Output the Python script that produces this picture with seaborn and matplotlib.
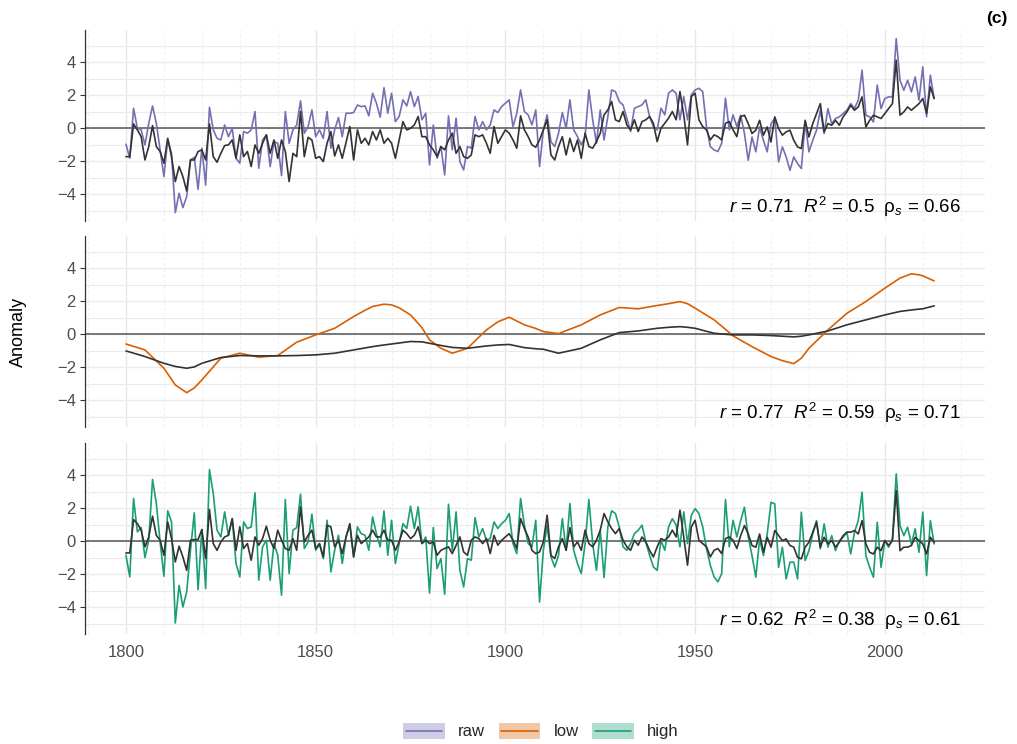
## ==========================================
## Anomaly Panels : raw / low / high
## ==========================================

import numpy as np
import pandas as pd
import matplotlib.pyplot as plt
import seaborn as sns

from matplotlib.lines import Line2D
from matplotlib.patches import Rectangle
from matplotlib.legend_handler import HandlerBase
from matplotlib.ticker import MultipleLocator

## ==========================================
## Data
## ==========================================

years = np.arange(1800, 2014)

raw_series = [
    -0.97, -1.82, 1.21, 0.0, -0.1, -1.01, 0.3, 1.35, 0.3, -1.31,
    -2.93, -0.67, -1.52, -5.11, -3.94, -4.81, -4.14, -1.92, -1.76, -3.7,
    -1.21, -3.45, 1.27, -0.1, -0.61, -0.71, 0.2, -0.51, 0.0, -1.82,
    -2.12, -0.2, -0.3, -0.1, 1.01, -2.42, -0.71, -0.4, -2.32, -0.81,
    -0.91, -2.87, 1.01, -0.91, -0.1, 0.2, 1.66, -0.3, 0.1, 1.11,
    -0.51, -0.1, -0.61, 1.01, -1.21, -0.1, 0.65, -0.51, 0.91, 0.91,
    0.95, 1.41, 1.31, 1.35, 0.75, 2.12, 1.52, 0.67, 2.46, 0.91,
    2.12, 0.4, 0.71, 1.72, 1.35, 2.22, 1.31, 1.92, 0.51, 0.91,
    -2.22, 0.2, -1.82, -1.11, -2.83, 0.75, -1.31, 0.61, -2.02, -2.53,
    -1.11, -1.21, 0.71, -0.1, 0.4, -0.1, 0.2, 1.11, 0.95, 1.31,
    1.52, 1.72, 0.1, 0.91, 2.32, 1.01, 0.81, 0.2, 1.11, -2.32,
    -0.1, 0.81, -0.81, -1.11, -0.3, 0.95, 0.0, 1.72, -0.1, -0.51,
    -1.01, -0.51, 2.32, 0.51, -0.91, 1.11, -0.71, 0.71, 2.32, 2.22,
    1.62, 1.41, 0.61, -0.2, 1.21, 1.31, 1.41, 1.72, 0.71, 0.1,
    -0.1, 1.21, 0.81, 2.12, 2.32, 2.12, 0.51, 1.92, 0.51, 2.02,
    2.32, 2.42, 2.22, 0.1, -1.11, -1.31, -1.41, -0.91, 1.82, -0.1,
    0.81, 0.1, 0.8, -0.32, -1.94, -0.53, -1.43, 0.08, -0.73, -1.43,
    0.28, 0.59, -2.04, -1.13, -1.74, -2.55, -1.74, -2.14, -2.44, 0.38,
    -1.43, -0.73, -0.12, 1.09, -0.32, 1.19, 0.28, 0.59, 0.69, 0.89,
    1.09, 1.49, 1.19, 1.7, 3.52, 0.79, 0.69, 0.38, 2.61, 1.19,
    1.8, 1.9, 1.9, 5.43, 2.91, 2.3, 2.91, 2.2, 3.11, 1.7,
    3.72, 0.69, 3.21, 1.8,
]

raw_ref = [
    -1.72, -1.72, 0.26, -0.1, -0.51, -1.92, -1.11, 0.16, -1.11, -1.41,
    -2.12, -0.61, -1.72, -3.23, -2.32, -2.93, -3.8, -1.92, -1.92, -1.41,
    -1.31, -1.92, 0.26, -1.72, -2.06, -1.52, -1.05, -1.01, -0.71, -1.82,
    -0.4, -1.72, -1.41, -2.32, -1.01, -1.52, -0.91, -0.4, -1.52, -0.71,
    -1.82, -0.71, -1.41, -3.23, -1.52, -1.72, 1.01, -1.72, -0.55, -0.71,
    -1.82, -1.72, -2.02, -0.91, -0.2, -1.68, -1.01, -1.82, -0.87, 0.1,
    -1.92, -0.1, -0.91, -0.61, -1.01, -0.2, -0.71, -0.1, -0.91, -0.61,
    -0.91, -1.82, -0.71, 0.4, -0.1, 0.0, 0.2, 0.71, -0.51, -0.51,
    -1.01, -1.31, -1.72, -1.11, -1.31, -0.71, -0.3, -1.52, -1.11, -1.72,
    -1.82, -1.62, -0.4, -0.51, -0.4, -0.91, -1.52, 0.1, -0.91, -0.51,
    -0.1, -0.3, -0.71, -1.21, 0.75, -0.1, -0.51, -1.01, -1.15, -0.71,
    -0.1, 0.51, -1.62, -1.92, -1.11, -0.51, -1.62, -0.61, -1.41, -0.71,
    -1.82, -0.3, -1.11, -1.21, -0.81, -0.3, 0.81, 1.11, 1.62, 0.51,
    0.4, 1.01, 0.2, -0.1, 0.51, -0.2, 0.4, 0.51, 0.71, 0.3,
    -0.81, 0.0, 0.3, 0.61, 1.01, 0.51, 2.22, 0.81, -1.01, 1.92,
    2.12, 0.51, 0.1, -0.1, -0.71, -0.4, -0.51, -0.71, 0.3, 0.4,
    -0.1, -0.51, 0.69, 0.79, 0.28, -0.32, -0.12, 0.48, -0.42, 0.08,
    -0.83, 0.69, -0.02, -0.42, -0.22, -0.12, -0.73, -1.13, -1.23, 0.48,
    -0.53, 0.28, 0.89, 1.49, -0.22, 0.28, 0.18, 0.48, 0.18, 0.69,
    0.99, 1.39, 1.09, 1.29, 1.9, 0.08, 0.48, 0.79, 0.69, 0.59,
    0.89, 1.19, 1.49, 4.12, 0.79, 0.99, 1.29, 1.09, 1.29, 1.49,
    1.8, 0.89, 2.51, 1.8,
]

high_series = [
    -0.85, -2.16, 2.59, 0.57, 0.83, -0.99, 0.06, 3.74, 2.28, -0.04,
    -2.12, 1.84, 1.17, -4.95, -2.67, -3.98, -3.07, -0.55, 1.72, -2.93,
    0.71, -2.87, 4.34, 2.89, 0.67, 0.26, 1.78, 0.36, 1.37, -1.35,
    -2.16, 1.17, 0.77, 0.87, 2.93, -2.36, -0.34, 0.06, -2.36, -0.14,
    -0.85, -3.27, 2.53, -1.96, 0.67, 0.83, 2.85, -0.44, -0.04, 1.64,
    -0.55, -0.18, -1.05, 1.27, -1.86, -0.55, 0.36, -1.35, 0.26, 0.97,
    -0.95, 0.87, 0.46, 0.36, -0.55, 1.47, 0.46, -0.34, 1.84, -0.85,
    1.27, -1.35, -0.14, 1.07, 0.77, 2.12, 0.77, 2.08, -0.14, 0.26,
    -3.13, 0.83, -1.66, -1.05, -3.21, 2.24, -0.55, 1.78, -1.76, -2.77,
    -1.05, -1.15, 1.43, 0.26, 0.77, 0.06, 0.16, 1.17, 0.77, 1.07,
    1.27, 1.68, -0.14, -0.75, 2.59, 0.97, -0.14, -0.34, 1.27, -3.68,
    -0.55, 0.97, -0.95, -1.56, -0.85, 1.37, -0.55, 2.28, -0.55, -1.35,
    -1.96, -0.14, 2.53, -0.14, -1.76, 0.67, -2.2, 0.87, 1.84, 1.68,
    0.87, -0.34, -0.55, -0.14, 0.46, 0.67, 0.97, -0.04, -0.85, -1.56,
    -1.76, 0.06, -0.55, 0.87, 1.37, 0.97, -0.34, 1.78, -0.14, 1.58,
    1.98, 1.68, 0.87, -0.44, -1.45, -2.16, -2.46, -1.96, 2.53, -0.34,
    1.27, 0.26, 1.25, 2.06, 0.24, -0.87, -2.18, 0.14, -0.87, 0.44,
    2.36, 2.26, -1.58, -0.36, -2.28, -1.27, -1.27, -2.28, 1.76, -1.17,
    -0.57, 0.44, 1.25, -0.46, 1.05, -0.36, 0.34, -0.57, 0.04, 0.24,
    0.55, -0.77, 0.55, 1.25, 2.97, -0.87, -1.58, -2.18, 1.15, -1.58,
    0.04, -0.36, 0.14, 4.08, 0.95, 0.34, 0.85, -0.16, 0.75, -0.67,
    1.76, -2.08, 1.25, -0.16,
]

high_ref = [
    -0.71, -0.71, 1.31, 1.07, 0.67, -0.34, 0.26, 1.52, 0.36, 0.06,
    -0.85, 1.17, 0.16, -1.25, -0.3, -0.95, -1.76, 0.06, 0.1, 0.1,
    0.71, -1.05, 1.92, -0.14, -0.55, -0.04, 0.26, 0.36, 1.37, -0.55,
    0.87, -0.44, -0.14, -1.15, 0.26, -0.24, 0.16, 0.91, 0.06, -0.44,
    0.67, 0.06, -0.44, -0.55, 0.16, -0.55, 2.08, -0.04, 0.36, 0.67,
    -0.44, -0.14, -0.95, 0.97, 0.87, -0.34, 0.06, -0.75, 0.26, 1.07,
    -0.95, 0.36, -0.14, 0.06, 0.26, 0.67, 0.26, 0.26, 0.67, 0.06,
    0.06, -0.55, -0.04, 0.67, 0.46, 0.16, 0.36, 0.87, -0.14, 0.06,
    -0.14, -0.04, -0.85, -0.55, -0.44, -0.34, -0.75, -0.24, 0.26, -0.65,
    -0.85, 0.06, 0.26, 0.16, -0.14, 0.16, -0.75, 0.36, -0.24, 0.06,
    0.26, 0.46, 0.06, -0.44, 1.37, 0.77, 0.26, -0.55, -0.75, -0.65,
    -0.04, 1.58, -0.85, -1.05, -0.34, 0.16, -0.55, 0.83, -0.34, -0.04,
    -0.55, 0.67, -0.14, -0.34, 0.06, 0.67, 1.68, 1.17, 0.77, 0.46,
    0.77, 0.06, -0.34, -0.55, 0.06, -0.24, 0.26, -0.04, -0.55, -0.95,
    -0.34, 0.16, 0.06, 0.26, 0.67, 0.26, 1.88, 0.26, -1.45, 0.87,
    1.27, 0.06, -0.14, -0.34, -0.95, -0.55, -0.44, -0.75, 0.16, 0.26,
    0.06, -0.44, 0.34, 0.95, 0.44, -0.26, -0.36, 0.44, -0.67, 0.24,
    -0.36, 0.65, 0.34, 0.04, 0.14, -0.26, -0.36, -0.97, -1.07, -0.36,
    -0.06, 0.55, 1.15, -0.36, 0.24, -0.16, 0.04, -0.36, -0.06, 0.34,
    0.55, 0.55, 0.65, 0.44, 1.25, -0.16, -0.67, -0.77, -0.36, -0.57,
    0.04, -0.26, 0.04, 3.07, -0.57, -0.36, -0.36, -0.26, 0.24, 0.04,
    -0.16, -0.77, 0.24, -0.06,
]

low_years = [
    1800, 1805, 1810, 1813, 1816, 1818, 1820, 1825, 1830, 1835,
    1840, 1845, 1850, 1855, 1860, 1863, 1865, 1868, 1870, 1872,
    1875, 1878, 1880, 1883, 1886, 1890, 1895, 1898, 1901, 1905,
    1908, 1910, 1914, 1920, 1925, 1930, 1935, 1940, 1943, 1946,
    1948, 1950, 1955, 1958, 1960, 1965, 1970, 1973, 1976, 1978,
    1980, 1985, 1990, 1995, 2000, 2004, 2007, 2009, 2010, 2013,
]

low_series = [
    -0.59, -0.95, -2.06, -3.07, -3.54, -3.25, -2.77, -1.45, -1.15, -1.39,
    -1.29, -0.48, -0.04, 0.36, 1.07, 1.45, 1.68, 1.82, 1.78, 1.6,
    1.17, 0.4, -0.34, -0.85, -1.15, -0.85, 0.26, 0.75, 1.03, 0.57,
    0.35, 0.16, 0.04, 0.57, 1.17, 1.62, 1.54, 1.74, 1.85, 1.98,
    1.85, 1.58, 0.87, 0.3, -0.10, -0.75, -1.35, -1.6, -1.78, -1.45,
    -0.85, 0.26, 1.27, 1.98, 2.79, 3.4, 3.66, 3.6, 3.54, 3.23,
]

low_ref = [
    -1.01, -1.35, -1.76, -1.95, -2.06, -1.98, -1.76, -1.41, -1.29, -1.31,
    -1.31, -1.29, -1.25, -1.15, -0.95, -0.83, -0.75, -0.65, -0.59, -0.53,
    -0.44, -0.46, -0.55, -0.68, -0.8, -0.85, -0.71, -0.65, -0.62, -0.81,
    -0.88, -0.91, -1.15, -0.85, -0.34, 0.10, 0.20, 0.36, 0.42, 0.46,
    0.42, 0.36, 0.06, 0.0, -0.04, -0.04, -0.08, -0.12, -0.16, -0.12,
    -0.04, 0.20, 0.57, 0.87, 1.17, 1.38, 1.47, 1.52, 1.54, 1.72,
]

component_names = ["raw", "low", "high"]

stats_text = [
    r"$r$ = 0.71  $R^2$ = 0.5  $\mathrm{\rho}_s$ = 0.66",
    r"$r$ = 0.77  $R^2$ = 0.59  $\mathrm{\rho}_s$ = 0.71",
    r"$r$ = 0.62  $R^2$ = 0.38  $\mathrm{\rho}_s$ = 0.61",
]

## ==========================================
## Data Frames
## ==========================================

df_raw = pd.DataFrame({"Year": years, "proxy": raw_series, "ref": raw_ref})
df_low = pd.DataFrame({"Year": low_years, "proxy": low_series, "ref": low_ref})
df_high = pd.DataFrame({"Year": years, "proxy": high_series, "ref": high_ref})

panels = [df_raw, df_low, df_high]

## ==========================================
## Style
## ==========================================

sns.set_theme(style="white")

plt.rcParams["font.family"] = ["Liberation Sans", "DejaVu Sans"]
plt.rcParams["mathtext.fontset"] = "custom"
plt.rcParams["mathtext.rm"] = "Liberation Sans"
plt.rcParams["mathtext.it"] = "Liberation Sans:italic"
plt.rcParams["mathtext.bf"] = "Liberation Sans:bold"

colors = ["#7570b3", "#d95f02", "#1b9e77"]
ref_color = "#333333"
grid_color = "#ebebeb"
text_color = "#4d4d4d"

## ==========================================
## Legend Key : light box + coloured line
## ==========================================

class BoxLineHandler(HandlerBase):

    def create_artists(self, legend, orig_handle, xdescent, ydescent,
                       width, height, fontsize, trans):

        c = orig_handle.get_color()

        box = Rectangle((-xdescent, -ydescent), width, height,
                        facecolor=c, alpha=0.35, edgecolor="none",
                        transform=trans)

        mid = -ydescent + height / 2
        line = Line2D([-xdescent + 2, -xdescent + width - 2], [mid, mid],
                      color=c, lw=1.2, transform=trans)

        return [box, line]

## ==========================================
## Figure
## ==========================================

fig = plt.figure(figsize=(10.17, 7.44), dpi=100)

left = 85 / 1017
width = 900 / 1017
height = 190.7 / 744
bottoms = [1 - 220.7 / 744, 1 - 426.7 / 744, 1 - 633.7 / 744]

for i, df in enumerate(panels):

    ax = fig.add_axes([left, bottoms[i], width, height])

    ax.set_xlim(1789.2, 2026.4)
    ax.set_ylim(-5.6, 5.95)

    ## grid
    ax.yaxis.set_major_locator(MultipleLocator(2))
    ax.yaxis.set_minor_locator(MultipleLocator(1))
    ax.xaxis.set_major_locator(MultipleLocator(50))
    ax.xaxis.set_minor_locator(MultipleLocator(10))

    ax.grid(which="major", axis="y", color=grid_color, lw=1.0, zorder=0)
    ax.grid(which="minor", axis="y", color=grid_color, lw=0.8, zorder=0)
    ax.grid(which="major", axis="x", color="#e6e6e6", lw=1.0, zorder=0)
    ax.grid(which="minor", axis="x", color="#f0f0f0", lw=0.8,
            linestyle=(0, (3, 2)), zorder=0)

    ax.axhline(0, color="#555555", lw=1.1, zorder=1)

    sns.lineplot(data=df, x="Year", y="proxy", color=colors[i],
                 lw=1.2, ax=ax, zorder=2)
    sns.lineplot(data=df, x="Year", y="ref", color=ref_color,
                 lw=1.2, ax=ax, zorder=3)

    ax.set_xlabel("")
    ax.set_ylabel("")

    for side in ["top", "right", "bottom"]:
        ax.spines[side].set_visible(False)
    ax.spines["left"].set_color("#333333")
    ax.spines["left"].set_linewidth(0.9)

    ax.tick_params(axis="y", which="major", length=3.5, width=0.8,
                   color="#333333", labelsize=12, labelcolor=text_color,
                   pad=3, left=True)
    ax.tick_params(axis="y", which="minor", length=0)
    ax.tick_params(axis="x", which="both", length=0, labelsize=12,
                   labelcolor=text_color, pad=8)

    if i < 2:
        ax.tick_params(axis="x", labelbottom=False)

    ax.text(0.9733, 0.04, stats_text[i], transform=ax.transAxes,
            ha="right", va="baseline", fontsize=13.5, color="black")

## ==========================================
## Labels, Legend
## ==========================================

fig.text(0.018, 1 - 332 / 744, "Anomaly", rotation=90,
         ha="center", va="center", fontsize=13, color="black")

fig.text(0.980, 1 - 19 / 744, "(c)", ha="center", va="center",
         fontsize=12.5, fontweight="bold", color="black")

handles = [Line2D([0], [0], color=c) for c in colors]

fig.legend(handles, component_names, loc="center",
           bbox_to_anchor=(0.532, 1 - 731 / 744), ncol=3, frameon=False,
           fontsize=12, handlelength=2.5, handleheight=1.1,
           handletextpad=0.8, columnspacing=0.8,
           handler_map={Line2D: BoxLineHandler()})

fig.savefig("out.png", dpi=100)
plt.close()
